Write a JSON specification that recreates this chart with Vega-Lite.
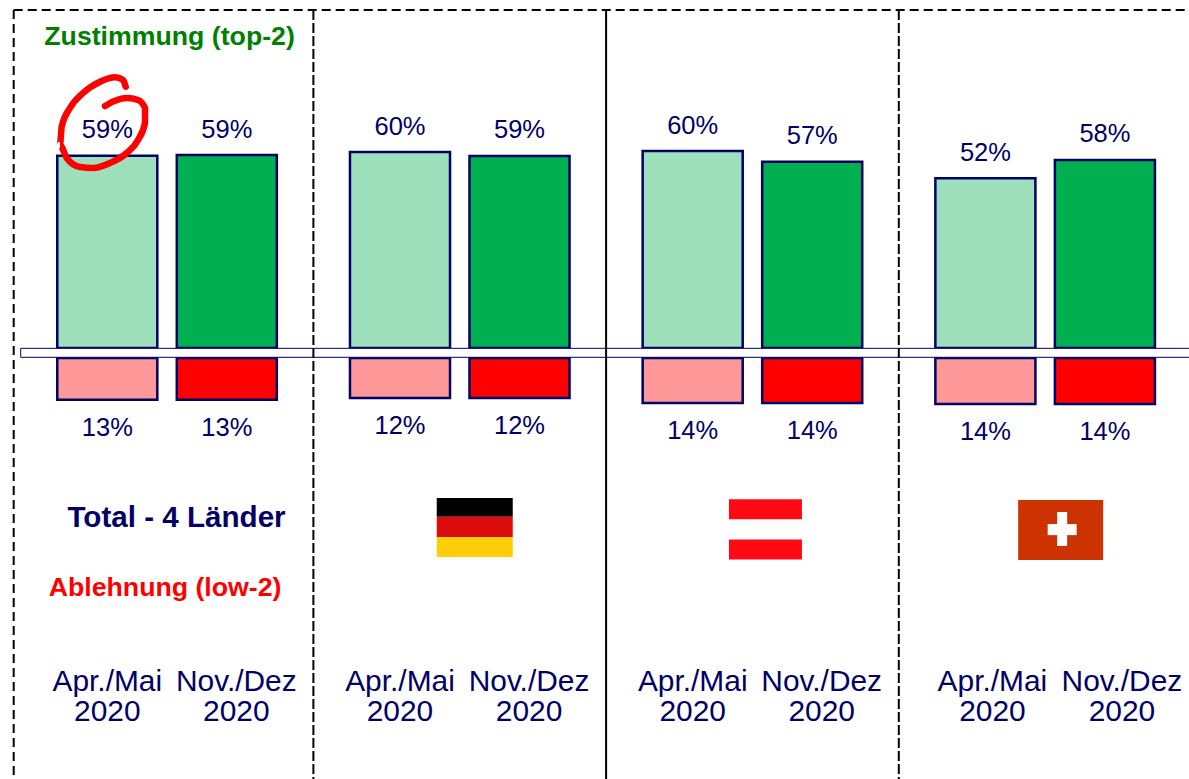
{"$schema":"https://vega.github.io/schema/vega-lite/v6.json","width":1189,"height":779,"padding":0,"autosize":{"type":"none"},"background":"white","config":{"view":{"stroke":null},"text":{"font":"Liberation Sans"}},
"datasets":{"bars":[
{"country":"Total","period":"Apr./Mai 2020","series":"top Apr","value":59,"label":"59%"},
{"country":"Total","period":"Nov./Dez 2020","series":"top Nov","value":59.2,"label":"59%"},
{"country":"DE","period":"Apr./Mai 2020","series":"top Apr","value":60.1,"label":"60%"},
{"country":"DE","period":"Nov./Dez 2020","series":"top Nov","value":58.9,"label":"59%"},
{"country":"AT","period":"Apr./Mai 2020","series":"top Apr","value":60.4,"label":"60%"},
{"country":"AT","period":"Nov./Dez 2020","series":"top Nov","value":57.1,"label":"57%"},
{"country":"CH","period":"Apr./Mai 2020","series":"top Apr","value":52.1,"label":"52%"},
{"country":"CH","period":"Nov./Dez 2020","series":"top Nov","value":57.7,"label":"58%"},
{"country":"Total","period":"Apr./Mai 2020","series":"low Apr","value":-12.8,"label":"13%"},
{"country":"Total","period":"Nov./Dez 2020","series":"low Nov","value":-12.8,"label":"13%"},
{"country":"DE","period":"Apr./Mai 2020","series":"low Apr","value":-12.3,"label":"12%"},
{"country":"DE","period":"Nov./Dez 2020","series":"low Nov","value":-12.3,"label":"12%"},
{"country":"AT","period":"Apr./Mai 2020","series":"low Apr","value":-13.8,"label":"14%"},
{"country":"AT","period":"Nov./Dez 2020","series":"low Nov","value":-13.8,"label":"14%"},
{"country":"CH","period":"Apr./Mai 2020","series":"low Apr","value":-14.1,"label":"14%"},
{"country":"CH","period":"Nov./Dez 2020","series":"low Nov","value":-14.1,"label":"14%"}],
"decor":[{"note":"one row for each drawn annotation"}],
"periods":[
{"country":"Total","period":"Apr./Mai 2020","text":"Apr./Mai\n2020"},
{"country":"DE","period":"Apr./Mai 2020","text":"Apr./Mai\n2020"},
{"country":"AT","period":"Apr./Mai 2020","text":"Apr./Mai\n2020"}],
"periodsB":[
{"country":"Total","period":"Nov./Dez 2020","text":"Nov./Dez\n2020"},
{"country":"DE","period":"Nov./Dez 2020","text":"Nov./Dez\n2020"},
{"country":"AT","period":"Nov./Dez 2020","text":"Nov./Dez\n2020"}],
"periodsC":[{"country":"CH","period":"Apr./Mai 2020","text":"Apr./Mai\n2020"}],
"periodsD":[{"country":"CH","period":"Nov./Dez 2020","text":"Nov./Dez\n2020"}],
"loop":[{"i":1,"x":125.7,"y":86.7},{"i":2,"x":123,"y":80},{"i":3,"x":115,"y":77.3},{"i":4,"x":100,"y":81.7},{"i":5,"x":83,"y":93},{"i":6,"x":70,"y":108},{"i":7,"x":61.7,"y":126.7},{"i":8,"x":60,"y":145},{"i":9,"x":66.7,"y":158},{"i":10,"x":80,"y":167},{"i":11,"x":93,"y":168},{"i":12,"x":110,"y":163},{"i":13,"x":126.7,"y":153},{"i":14,"x":138,"y":140},{"i":15,"x":145,"y":123},{"i":16,"x":145,"y":108},{"i":17,"x":138,"y":100},{"i":18,"x":127,"y":98},{"i":19,"x":115,"y":100.7},{"i":20,"x":105,"y":106}]},
"resolve":{"scale":{"x":"independent","y":"independent"}},
"layer":[
{"layer":[
{"data":{"name":"bars"},"transform":[{"filter":"datum.value>0"}],"mark":{"type":"bar","stroke":"#000066","strokeWidth":2.5},"encoding":{
"x":{"field":"country","type":"nominal","axis":null,"scale":{"domain":["Total","DE","AT","CH"],"range":[20.7,1191.5],"paddingInner":0,"paddingOuter":0}},
"xOffset":{"field":"period","type":"nominal","scale":{"domain":["Apr./Mai 2020","Nov./Dez 2020"],"paddingInner":0.163,"paddingOuter":0.306}},
"y":{"field":"value","type":"quantitative","axis":null,"scale":{"domain":[-132.2,106.75],"range":[779,0],"nice":false,"zero":false}},
"y2":{"datum":0},"color":{"field":"series","type":"nominal","legend":null,"scale":{"domain":["top Apr","top Nov","low Apr","low Nov"],"range":["#9EE0BC","#00B050","#FF9999","#FF0000"]}}}},
{"data":{"name":"bars"},"transform":[{"filter":"datum.value<0"}],"mark":{"type":"bar","stroke":"#000066","strokeWidth":2.5,"yOffset":10,"y2Offset":10},"encoding":{"x":{"field":"country","type":"nominal","axis":null},"xOffset":{"field":"period","type":"nominal"},"y":{"field":"value","type":"quantitative","axis":null},"y2":{"datum":0},"color":{"field":"series","type":"nominal","legend":null}}},
{"data":{"name":"decor"},"mark":{"type":"rect","fill":"white","stroke":"#000066","strokeWidth":1},"encoding":{"x":{"datum":"Total","type":"nominal","bandPosition":0,"axis":null},"x2":{"value":1195},"y":{"datum":-0.1,"type":"quantitative","axis":null},"y2":{"datum":-2.85}}},
{"data":{"name":"decor"},"mark":{"type":"rule","color":"black","strokeWidth":2,"strokeDash":[10,3]},"encoding":{"x":{"datum":"DE","type":"nominal","bandPosition":0,"axis":null},"y":{"datum":103.7,"type":"quantitative","axis":null},"y2":{"datum":-132.2}}},
{"data":{"name":"decor"},"mark":{"type":"rule","color":"black","strokeWidth":2,"strokeDash":[10,3]},"encoding":{"x":{"datum":"CH","type":"nominal","bandPosition":0,"axis":null},"y":{"datum":103.7,"type":"quantitative","axis":null},"y2":{"datum":-132.2}}},
{"data":{"name":"decor"},"mark":{"type":"rule","color":"black","strokeWidth":2},"encoding":{"x":{"datum":"AT","type":"nominal","bandPosition":0,"axis":null},"y":{"datum":103.7,"type":"quantitative","axis":null},"y2":{"datum":-132.2}}},
{"data":{"name":"decor"},"mark":{"type":"rule","color":"black","strokeWidth":2,"strokeDash":[9,5],"xOffset":-7},"encoding":{"x":{"datum":"Total","type":"nominal","bandPosition":0,"axis":null},"y":{"datum":103.7,"type":"quantitative","axis":null},"y2":{"datum":-132.2}}},
{"data":{"name":"decor"},"mark":{"type":"rule","color":"black","strokeWidth":2,"strokeDash":[9,5],"xOffset":-7},"encoding":{"x":{"datum":"Total","type":"nominal","bandPosition":0,"axis":null},"x2":{"value":1189},"y":{"datum":103.7,"type":"quantitative","axis":null}}},
{"data":{"name":"bars"},"transform":[{"filter":"datum.value>0"}],"mark":{"type":"text","fontSize":25.5,"color":"#000066","baseline":"middle","dy":-25.5},"encoding":{"x":{"field":"country","type":"nominal","axis":null},"xOffset":{"field":"period","type":"nominal"},"y":{"field":"value","type":"quantitative","axis":null},"text":{"field":"label"}}},
{"data":{"name":"bars"},"transform":[{"filter":"datum.value<0"}],"mark":{"type":"text","fontSize":25.5,"color":"#000066","baseline":"middle","dy":38},"encoding":{"x":{"field":"country","type":"nominal","axis":null},"xOffset":{"field":"period","type":"nominal"},"y":{"field":"value","type":"quantitative","axis":null},"text":{"field":"label"}}},
{"data":{"name":"periods"},"mark":{"type":"text","fontSize":29.9,"color":"#000066","baseline":"middle","lineBreak":"\n","lineHeight":30},"encoding":{"x":{"field":"country","type":"nominal","axis":null},"xOffset":{"field":"period","type":"nominal"},"y":{"datum":-102.4,"type":"quantitative","axis":null},"text":{"field":"text"}}},
{"data":{"name":"periodsB"},"mark":{"type":"text","fontSize":29.9,"color":"#000066","baseline":"middle","lineBreak":"\n","lineHeight":30,"dx":9.5},"encoding":{"x":{"field":"country","type":"nominal","axis":null},"xOffset":{"field":"period","type":"nominal"},"y":{"datum":-102.4,"type":"quantitative","axis":null},"text":{"field":"text"}}},
{"data":{"name":"periodsC"},"mark":{"type":"text","fontSize":29.9,"color":"#000066","baseline":"middle","lineBreak":"\n","lineHeight":30,"dx":7},"encoding":{"x":{"field":"country","type":"nominal","axis":null},"xOffset":{"field":"period","type":"nominal"},"y":{"datum":-102.4,"type":"quantitative","axis":null},"text":{"field":"text"}}},
{"data":{"name":"periodsD"},"mark":{"type":"text","fontSize":29.9,"color":"#000066","baseline":"middle","lineBreak":"\n","lineHeight":30,"dx":17},"encoding":{"x":{"field":"country","type":"nominal","axis":null},"xOffset":{"field":"period","type":"nominal"},"y":{"datum":-102.4,"type":"quantitative","axis":null},"text":{"field":"text"}}},
{"data":{"name":"decor"},"mark":{"type":"text","fontSize":26.7,"fontWeight":"bold","color":"#008000","baseline":"middle","align":"center","dx":2.5},"encoding":{"x":{"datum":"Total","type":"nominal","bandPosition":0.5,"axis":null},"y":{"datum":95.3,"type":"quantitative","axis":null},"text":{"value":"Zustimmung (top-2)"}}},
{"data":{"name":"decor"},"mark":{"type":"text","fontSize":29.6,"fontWeight":"bold","color":"#000066","baseline":"middle","align":"center","dx":9.5},"encoding":{"x":{"datum":"Total","type":"nominal","bandPosition":0.5,"axis":null},"y":{"datum":-52.1,"type":"quantitative","axis":null},"text":{"value":"Total - 4 Länder"}}},
{"data":{"name":"decor"},"mark":{"type":"text","fontSize":26.7,"fontWeight":"bold","color":"#FF0000","baseline":"middle","align":"center","dx":-2},"encoding":{"x":{"datum":"Total","type":"nominal","bandPosition":0.5,"axis":null},"y":{"datum":-73.6,"type":"quantitative","axis":null},"text":{"value":"Ablehnung (low-2)"}}},
{"data":{"name":"decor"},"mark":{"type":"bar","width":76,"xOffset":15,"color":"#000000"},"encoding":{"x":{"datum":"DE","type":"nominal","axis":null},"y":{"datum":-46.0,"type":"quantitative","axis":null},"y2":{"datum":-51.75}}},
{"data":{"name":"decor"},"mark":{"type":"bar","width":76,"xOffset":15,"color":"#DD0C0C"},"encoding":{"x":{"datum":"DE","type":"nominal","axis":null},"y":{"datum":-51.75,"type":"quantitative","axis":null},"y2":{"datum":-58.07}}},
{"data":{"name":"decor"},"mark":{"type":"bar","width":76,"xOffset":15,"color":"#FFCE0A"},"encoding":{"x":{"datum":"DE","type":"nominal","axis":null},"y":{"datum":-58.07,"type":"quantitative","axis":null},"y2":{"datum":-64.1}}},
{"data":{"name":"decor"},"mark":{"type":"bar","width":73,"xOffset":13,"color":"#FF0A14"},"encoding":{"x":{"datum":"AT","type":"nominal","axis":null},"y":{"datum":-46.4,"type":"quantitative","axis":null},"y2":{"datum":-52.55}}},
{"data":{"name":"decor"},"mark":{"type":"bar","width":73,"xOffset":13,"color":"#FF0A14"},"encoding":{"x":{"datum":"AT","type":"nominal","axis":null},"y":{"datum":-58.7,"type":"quantitative","axis":null},"y2":{"datum":-64.9}}},
{"data":{"name":"decor"},"mark":{"type":"bar","width":85,"xOffset":15.5,"color":"#CC3300"},"encoding":{"x":{"datum":"CH","type":"nominal","axis":null},"y":{"datum":-46.6,"type":"quantitative","axis":null},"y2":{"datum":-65}}},
{"data":{"name":"decor"},"mark":{"type":"bar","width":29,"xOffset":17,"color":"white"},"encoding":{"x":{"datum":"CH","type":"nominal","axis":null},"y":{"datum":-54,"type":"quantitative","axis":null},"y2":{"datum":-57.4}}},
{"data":{"name":"decor"},"mark":{"type":"bar","width":10,"xOffset":17,"color":"white"},"encoding":{"x":{"datum":"CH","type":"nominal","axis":null},"y":{"datum":-50.3,"type":"quantitative","axis":null},"y2":{"datum":-60.7}}}
]},
{"data":{"name":"loop"},"mark":{"type":"line","color":"#FF0000","strokeWidth":6.5,"interpolate":"monotone","strokeCap":"round"},"encoding":{
"x":{"field":"x","type":"quantitative","axis":null,"scale":{"domain":[0,1189],"range":[0,1189],"nice":false,"zero":false}},
"y":{"field":"y","type":"quantitative","axis":null,"scale":{"domain":[0,779],"range":[0,779],"nice":false,"zero":false}},
"order":{"field":"i","type":"quantitative"}}}
]}
